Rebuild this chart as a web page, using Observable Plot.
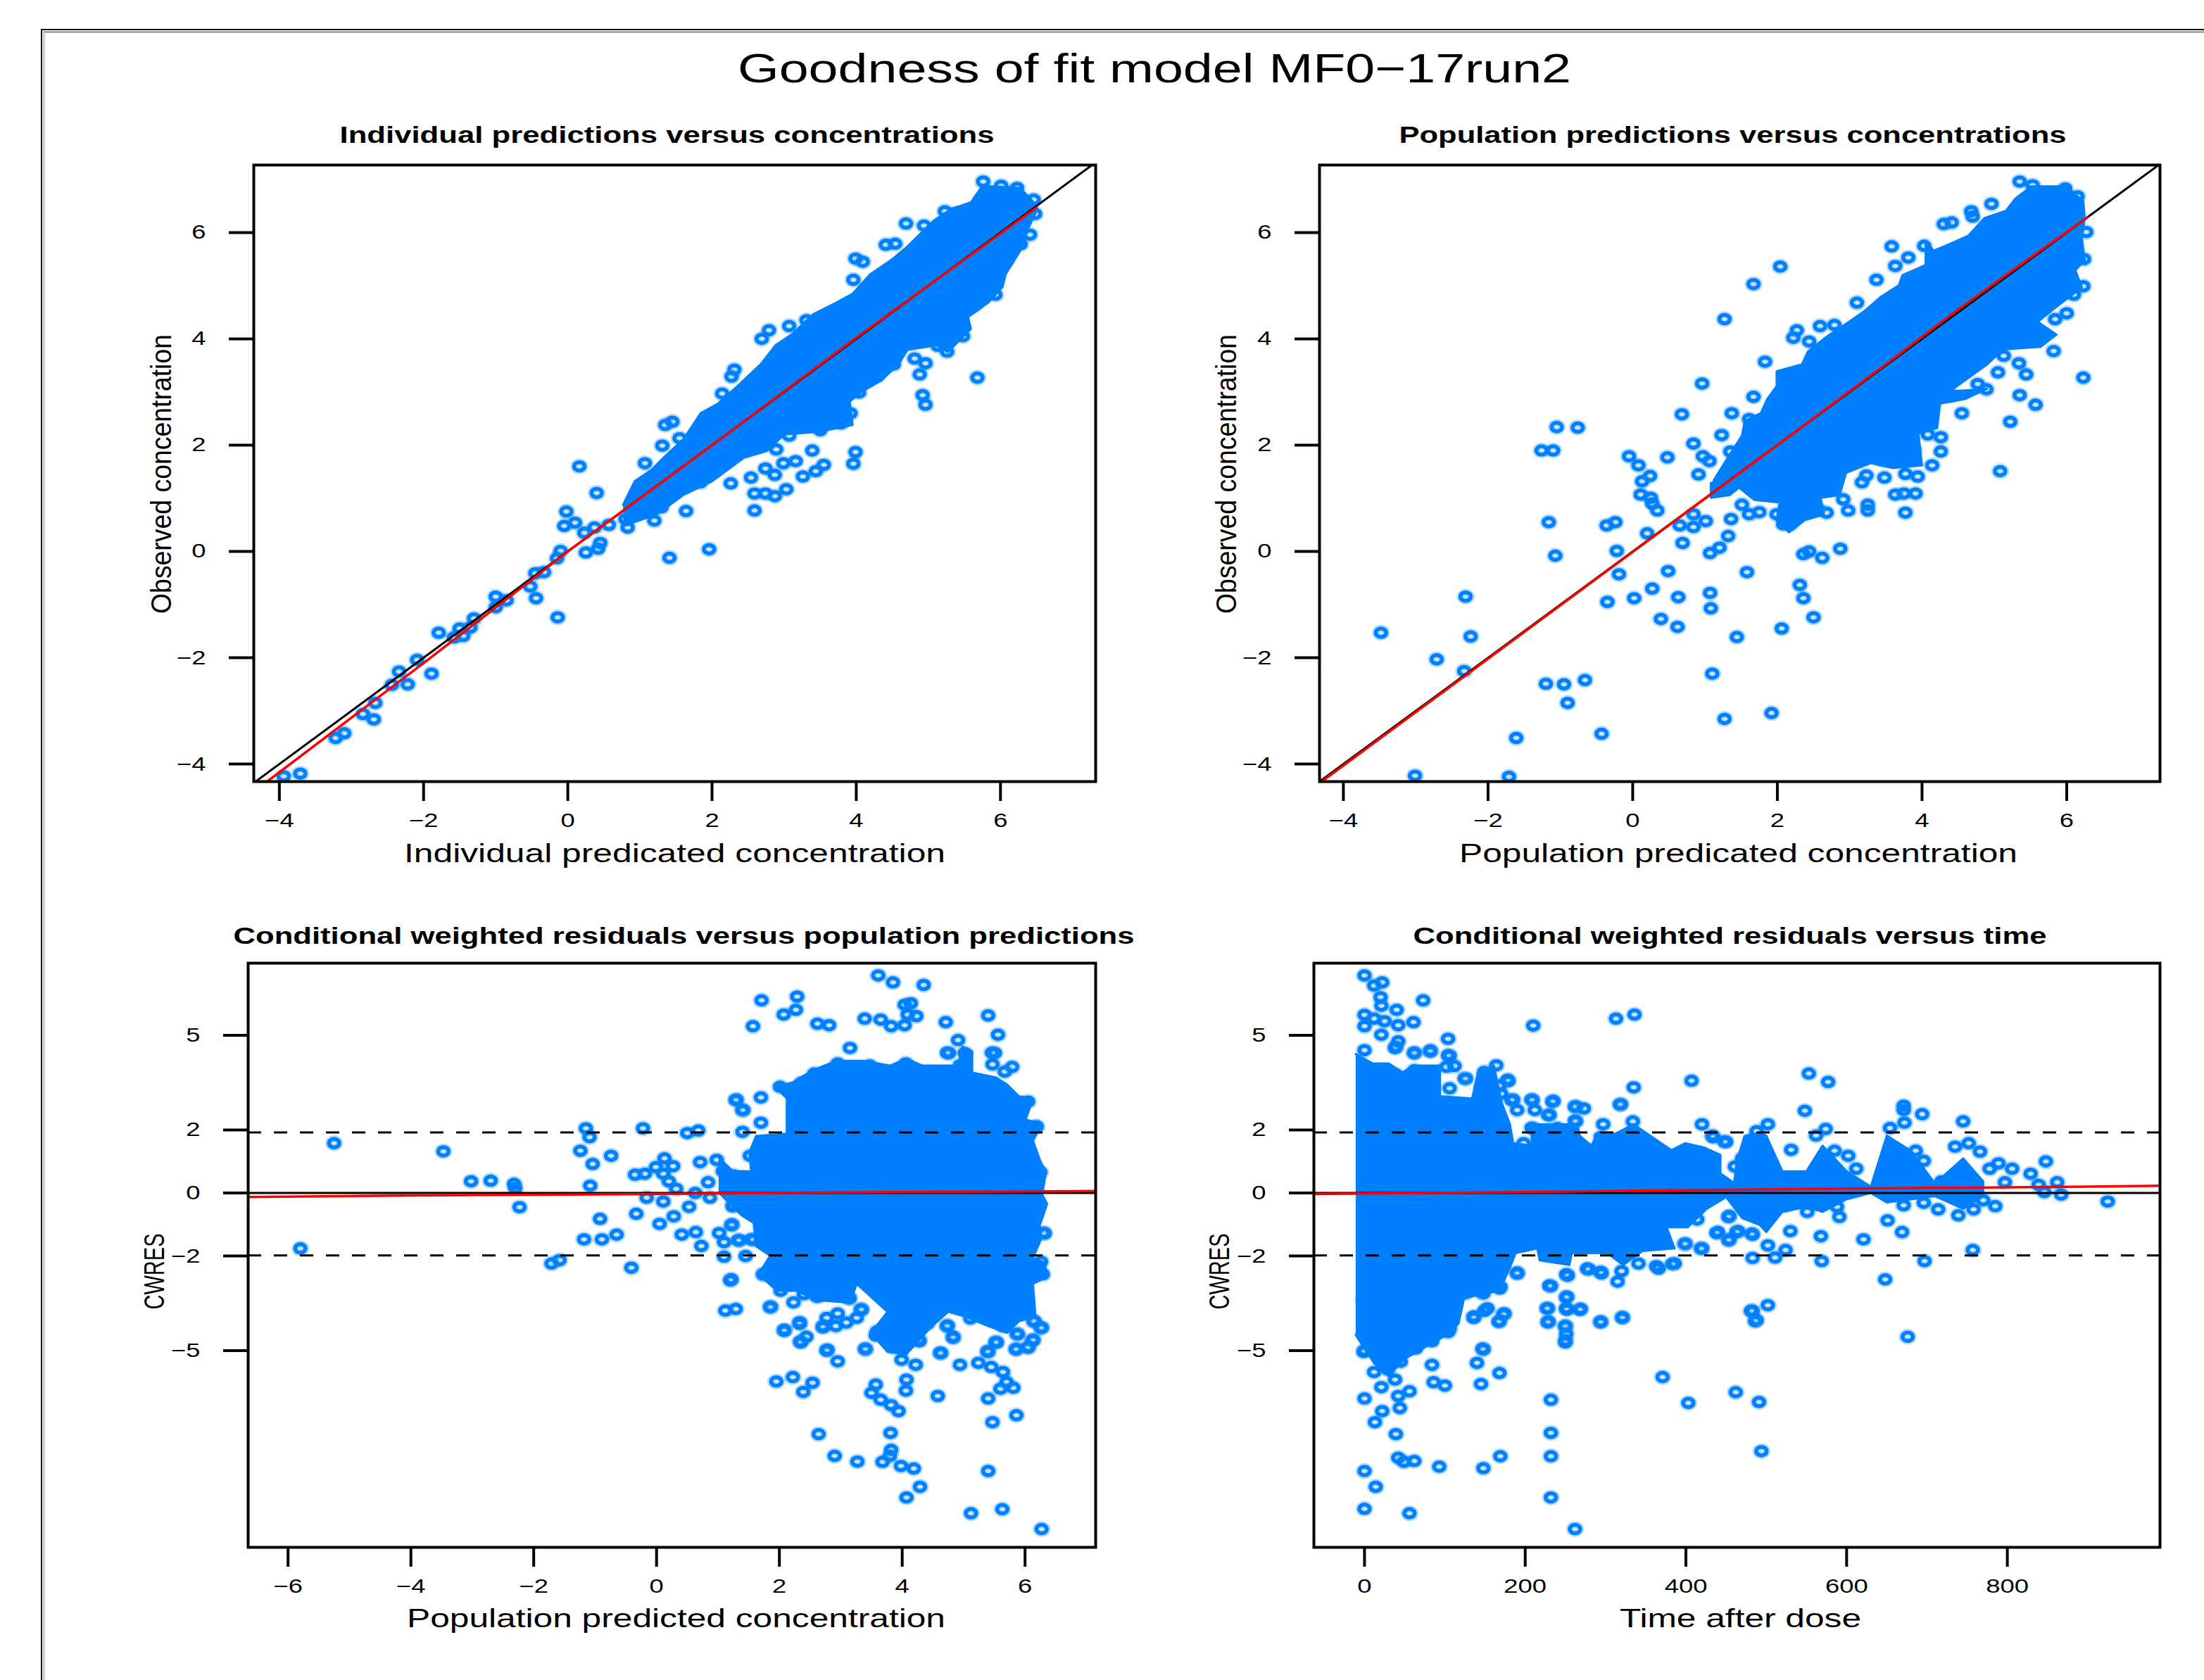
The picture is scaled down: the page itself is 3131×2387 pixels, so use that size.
<!DOCTYPE html>
<html><head><meta charset="utf-8">
<script src="https://cdn.jsdelivr.net/npm/d3@7"></script>
<script src="https://cdn.jsdelivr.net/npm/@observablehq/plot@0.6"></script>
<style>
html,body{margin:0;background:#fff}
#page{position:relative;width:3131px;height:2387px;overflow:hidden;background:#fff;font-family:"Liberation Sans",Arial,sans-serif}
#edge{position:absolute;left:58px;top:41px;right:-10px;bottom:-10px;border-left:2.5px solid #111;border-top:2.5px solid #111}
#edge2{position:absolute;left:60.5px;top:43.5px;right:-10px;bottom:-10px;border-left:3px solid #ccc;border-top:3px solid #aaa}
#page svg{position:absolute;background:transparent;overflow:visible}
#title{position:absolute;left:1640px;top:96px;transform:translate(-50%,-50%) scaleX(1.3);white-space:nowrap;font-size:58px;color:#000}
</style></head>
<body><div id="page"><div id="edge"></div><div id="edge2"></div><div id="title">Goodness of fit model MF0−17run2</div></div>
<script>
const mainTitle = "Goodness of fit model MF0−17run2";
const blue = "#0080ff";

const concTicks = [-4,-2,0,2,4,6];
const cwresTicks = [-5,-2,0,2,5];
const predTicks = [-6,-4,-2,0,2,4,6];
const timeTicks = [0,200,400,600,800];

// dense cores, read as an outline walked round each solid mass: [x, y]
const core1 = [[.766,.88],[.926,1.32],[1.165,1.54],[1.324,1.76],[1.603,2.11],[1.842,2.6],[2.081,2.78],[2.4,3.17],[2.68,3.53],[2.88,3.88],[3.12,4.1],[3.4,4.46],[3.72,4.68],[3.95,4.85],[4.19,5.21],[4.51,5.51],[4.71,5.74],[5.07,6.22],[5.31,6.44],[5.59,6.57],[5.75,6.88],[6.27,6.84],[6.43,6.62],[6.51,6.44],[6.39,6.09],[6.27,5.65],[6.07,5.21],[6.03,4.98],[5.83,4.68],[5.55,4.41],[5.59,4.19],[5.27,3.75],[5.11,3.88],[4.71,3.79],[4.59,3.53],[4.35,3.22],[4.07,3],[3.91,2.82],[3.95,2.38],[3.48,2.25],[3,2.2],[2.76,1.89],[2.44,1.76],[2,1.32],[1.6,1.06],[1.24,.7],[.77,.48]];
const core2 = [[1.12,1.34],[1.29,1.71],[1.51,2.18],[1.55,2.46],[1.77,2.6],[1.86,2.87],[1.99,3.11],[1.99,3.39],[2.34,3.52],[2.42,3.76],[2.68,4.04],[2.99,4.32],[3.21,4.53],[3.42,4.78],[3.68,5.01],[3.73,5.2],[4.05,5.39],[4.05,5.85],[4.16,5.66],[4.34,5.76],[4.64,5.94],[4.86,6.27],[5.16,6.41],[5.29,6.64],[5.51,6.87],[5.99,6.87],[6.23,6.59],[6.25,6.27],[6.21,5.9],[6.25,5.48],[6.12,5.29],[6.21,4.97],[6.03,4.78],[5.81,4.55],[5.6,4.32],[5.86,4.08],[5.64,3.85],[5.12,3.8],[4.9,3.52],[4.38,3.01],[4.9,3.06],[4.6,2.87],[4.25,2.78],[4.21,2.32],[3.95,2.22],[4,1.62],[3.6,1.57],[3.29,1.66],[2.95,1.48],[2.86,1.06],[2.6,1.01],[2.64,.69],[2.38,.59],[2.16,.36],[1.99,.59],[2.03,.92],[1.68,.97],[1.47,1.2],[1.34,1.06],[1.08,1.01],[1.08,1.29]];
const core3 = [[1.01,1.14],[1.24,.69],[1.54,.69],[1.51,1.29],[1.62,1.81],[2.12,1.88],[2.12,3],[1.93,3.37],[2.23,3.52],[2.54,3.89],[2.92,4.19],[3.38,4.19],[3.8,4.04],[4.07,4.26],[4.33,4.04],[4.91,4.04],[4.98,4.64],[5.14,4.49],[5.14,3.82],[5.52,3.67],[5.71,3.44],[5.9,3.07],[6.13,3],[6.01,2.33],[6.28,2.18],[6.13,1.66],[6.24,1.06],[6.34,.65],[6.28,-.05],[6.36,-.35],[6.24,-1.02],[6.26,-1.47],[6.13,-2.06],[6.32,-2.21],[6.36,-2.66],[6.13,-2.88],[6.17,-3.92],[5.9,-4.07],[5.71,-4.44],[5.4,-4.22],[5.02,-3.92],[4.75,-3.77],[4.45,-4.29],[4.07,-5.11],[3.76,-5.04],[3.49,-4.44],[3.76,-3.77],[3.26,-2.88],[3.15,-3.48],[2.61,-3.4],[2.27,-3.1],[1.96,-3.1],[1.66,-2.58],[1.85,-1.99],[1.62,-1.69],[1.58,-.95],[1.39,-.72],[1.16,-.28],[1.01,.02]];
const core4 = [[-11,4.41],[10.3,4.11],[30.4,4.11],[47,3.82],[60.6,4.04],[94,4.04],[94,3.07],[134,3],[141,3.82],[161,4.04],[171,2.85],[181,2.18],[185,1.58],[208,1.51],[208,2.18],[265,2.18],[268,1.81],[282,1.51],[289,1.81],[312,1.88],[335,2.18],[356,1.81],[382,1.36],[399,1.58],[423,1.44],[443,1.21],[443,.62],[460,.32],[463,.99],[473,1.81],[492,1.88],[500,1.82],[520,.69],[550,.69],[570,1.5],[600,.69],[630,.2],[650,1.82],[680,1.34],[710,.3],[745,1.1],[770,.37],[770,-.1],[745,-.5],[710,-.1],[680,-.2],[650,-.3],[630,0],[600,-.2],[570,-.6],[550,-.44],[520,-.6],[500,-1.24],[492,-1.02],[470,-.8],[450,-.13],[426,-.5],[402,-1.09],[376,-1.09],[386,-1.76],[346,-1.84],[322,-2.28],[302,-1.91],[258,-1.91],[255,-2.28],[218,-2.14],[215,-1.76],[188,-1.91],[181,-2.36],[168,-3.1],[124,-3.33],[117,-4.14],[101,-4.52],[50,-5.26],[30,-5.8],[12,-5.4],[-11,-4.5]];

// individually visible circles: [x, y]
const points1 = [[.16,1.6],[.4,1.1],[-.02,.75],[-.05,.48],[.1,.54],[.37,.45],[.57,.5],[.83,.45],[.23,.35],[.45,.16],[.42,.05],[.25,-.02],[-.1,.01],[-.15,-.13],[-.33,-.39],[-.45,-.41],[-.52,-.66],[-.44,-.88],[-1,-.85],[-1,-1.05],[-.85,-.92],[-.14,-1.24],[-1.3,-1.26],[-1.35,-1.43],[-1.5,-1.45],[-1.45,-1.59],[-1.79,-1.53],[-1.58,-1.62],[-2.09,-2.04],[-1.89,-2.3],[-2.34,-2.26],[-2.22,-2.5],[-2.44,-2.51],[-2.67,-2.85],[-2.84,-3.06],[-2.69,-3.16],[-3.1,-3.42],[-3.22,-3.51],[-3.71,-4.18],[-3.94,-4.23],[1.41,-.12],[1.96,.04],[1.64,.76],[2.59,.77],[2.26,1.28],[2.54,1.39],[2.59,1.09],[2.74,1.09],[2.87,1.04],[3.03,1.17],[2.87,1.44],[2.74,1.56],[2.99,1.66],[3.16,1.7],[3.39,1.9],[3.26,1.41],[3.44,1.51],[3.55,1.63],[3.96,1.65],[3.99,1.87],[2.89,1.92],[3.07,2.18],[3.5,2.28],[3.79,2.41],[3.92,2.6],[3.79,2.73],[4.92,2.94],[4.96,2.76],[5.68,3.27],[4.88,3.33],[4.81,3.63],[4.96,3.54],[5.26,3.76],[5.13,3.87],[5.48,4.05],[1.35,2.38],[1.45,2.44],[1.31,1.99],[1.07,1.66],[1.55,2.13],[2.14,2.97],[2.27,3.29],[2.31,3.42],[2.69,4],[2.79,4.16],[3.07,4.24],[3.31,4.35],[3.96,5.11],[3.99,5.51],[4.09,5.45],[4.41,5.77],[4.54,5.79],[4.69,6.17],[4.94,6.13],[5.23,6.4],[5.38,6.36],[5.76,6.96],[6.01,6.88],[6.23,6.84],[6.46,6.62],[6.48,6.35],[6.41,5.96],[6.28,5.78],[6.08,5.48],[5.93,4.83],[5.63,4.63],[4.52,3.52],[4.29,3.31],[4.04,2.99],[1.84,1.3],[1.2,.58],[1.3,.83],[.8,.61]];

const points2 = [[-3.48,-1.53],[-2.71,-2.03],[-2.31,-.85],[-2.24,-1.6],[-2.33,-2.25],[-3.01,-4.22],[-1.71,-4.24],[-1.61,-3.51],[-1.2,-2.49],[-.95,-2.5],[-.66,-2.42],[-.9,-2.85],[-.43,-3.43],[1.27,-3.15],[1.92,-3.04],[1.1,-2.3],[1.44,-1.61],[2.06,-1.45],[2.5,-1.24],[2.36,-.88],[2.31,-.63],[1.08,-1.07],[1.07,-.78],[.62,-1.42],[.39,-1.27],[.63,-.86],[.27,-.7],[.02,-.88],[-.35,-.95],[-.19,-.43],[.49,-.37],[1.58,-.39],[-.22,.01],[-1.07,-.08],[-1.16,.55],[-.36,.49],[-.24,.55],[.2,.34],[.69,.16],[.65,.49],[.84,.46],[1.01,.57],[.84,.7],[1.07,-.03],[1.2,.07],[1.32,.29],[1.36,.61],[2.36,-.05],[2.44,0],[2.62,-.12],[2.87,.05],[-1.26,1.9],[-1.1,1.9],[-1.05,2.34],[-.76,2.33],[-.05,1.79],[.08,1.62],[.24,1.42],[.13,1.32],[.11,1.07],[.25,1.01],[.27,.9],[.34,.77],[.48,1.77],[.68,2.58],[.96,3.16],[.84,2.03],[.97,1.79],[.91,1.45],[1.06,1.7],[1.23,2.19],[1.37,2.6],[1.27,4.37],[1.67,5.03],[2.04,5.36],[1.67,2.91],[1.83,3.57],[1.35,1.88],[1.61,2.49],[2.27,4.16],[2.22,4.02],[2.44,3.95],[2.59,4.24],[2.79,4.26],[3.1,4.68],[3.37,5.11],[3.58,5.74],[3.63,5.37],[3.81,5.53],[4.03,5.75],[4.3,6.16],[4.41,6.19],[4.68,6.4],[4.7,6.3],[4.96,6.54],[5.35,6.96],[5.53,6.89],[5.98,6.83],[6.15,6.68],[6.27,6.01],[6.24,5.5],[6.23,4.99],[6.1,4.83],[6,4.48],[5.84,4.37],[5.82,3.77],[6.23,3.27],[5.57,2.76],[5.35,2.94],[5.22,2.44],[5.08,1.51],[4.55,2.6],[5.44,3.33],[5.34,3.54],[5.13,3.68],[5.05,3.37],[4.89,3.05],[4.77,3.15],[4.41,2.94],[4.26,2.15],[4.26,1.88],[4.14,1.62],[3.89,1.9],[3.94,1.41],[3.77,1.46],[3.91,1.09],[3.75,1.09],[3.63,1.07],[3.77,.73],[3.48,1.39],[3.17,1.3],[3.23,1.43],[3.25,.88],[3.25,.77],[2.98,.77],[2.91,.98],[2.68,.73],[2.56,.8],[2.41,.77],[2.18,.51],[2.08,.51],[1.99,.7],[1.75,.74],[1.61,.7],[1.51,.88],[3.46,1.72],[3.65,1.94],[4.08,2.2]];

const points3 = [[-5.8,-1.76],[-5.25,1.58],[-3.47,1.32],[-3.02,.37],[-2.7,.39],[-2.32,.29],[-2.3,.15],[-2.23,-.45],[-1.15,2.05],[-1.09,1.77],[-1.24,1.34],[-1.04,.92],[-.74,1.18],[-1.08,.23],[-.92,-.82],[-1.18,-1.47],[-.89,-1.47],[-.65,-1.32],[-1.71,-2.24],[-1.58,-2.13],[-.41,-2.37],[-.22,2.05],[-.33,-.66],[.05,-.98],[.41,-1.32],[.64,-1.24],[.73,-1.68],[.28,-.74],[.11,-.27],[-.16,-.15],[.53,-.44],[.87,-.15],[.5,1.9],[.68,1.98],[.71,.98],[.98,1.05],[.13,1.1],[-.01,.82],[.27,.85],[-.35,.58],[-.19,.61],[.11,.61],[.2,.37],[.32,.13],[.63,0],[.84,.34],[1.08,.69],[1.25,.56],[1.4,.5],[1.23,-1],[1.02,-1.27],[1.1,-1.56],[1.35,-1.5],[1.1,-2.02],[1.45,-2],[1.58,-1.48],[1.22,-2.74],[1.12,-3.73],[1.29,-3.68],[1.25,-.4],[1.29,2.95],[1.4,2.63],[1.7,3.03],[1.7,2.23],[1.4,1.94],[1.57,5.29],[1.71,6.11],[2.07,5.66],[2.27,5.81],[2.29,6.23],[2.62,5.37],[2.81,5.32],[3.39,5.53],[3.65,5.5],[3.82,5.29],[4.04,5.32],[3.61,6.9],[3.85,6.68],[4.35,6.6],[4.04,5.97],[4.14,6.02],[4.09,5.66],[4.23,5.61],[4.71,5.42],[5.4,5.63],[5.56,5.02],[4.91,4.85],[3.15,4.6],[4.76,4.44],[5.02,4.44],[5.51,4.44],[4.94,4.05],[5.47,4.08],[5.79,4],[2.95,4.11],[3.47,4.05],[4.06,4.11],[2.57,3.79],[2.36,3.5],[2.01,3.37],[6.05,2.9],[6.19,2.11],[6.25,.66],[6.3,-1.27],[6.26,-2.18],[6.29,-2.58],[6.14,-4.06],[6.27,-4.27],[6.13,-4.66],[5.87,-4.47],[6.05,-4.9],[5.85,-4.95],[5.52,-4.73],[5.39,-5.02],[5.24,-5.39],[4.94,-5.45],[4.63,-5.08],[4.83,-4.56],[4.74,-4.21],[5.45,-5.52],[5.64,-5.68],[5.7,-6],[5.81,-6.18],[5.6,-6.21],[5.4,-6.52],[4.58,-6.44],[5.47,-7.27],[5.86,-7.05],[5.4,-8.82],[5.63,-10.03],[5.12,-10.16],[6.27,-10.66],[4.29,-9.32],[4.07,-9.66],[4.19,-8.74],[3.98,-8.66],[3.68,-8.53],[3.8,-8.34],[3.82,-8.15],[3.27,-8.52],[2.9,-8.34],[2.64,-7.65],[3.81,-7.61],[3.94,-6.92],[3.82,-6.73],[3.65,-6.56],[3.5,-6.34],[3.57,-6.08],[4.06,-6.27],[4.07,-5.92],[2.54,-6.02],[2.39,-6.31],[2.22,-5.84],[1.95,-5.98],[2.95,-5.34],[2.78,-4.97],[3.4,-4.94],[3.99,-5.29],[4.22,-5.45],[3.88,-4.84],[4.27,-4.66],[2.34,-4.71],[2.44,-4.56],[2.08,-4.34],[2.33,-4.1],[1.86,-3.61],[1.74,-2.58],[2.71,-4.23],[2.95,-3.82],[3.33,-3.69],[3.59,-4.39],[4.41,-4.15],[5.11,-3.98],[5.64,-4.23],[2.23,-3.47],[2.65,-3.26],[3.14,-3.34],[4.18,-3.58],[4.53,-3.37],[2.89,3.31],[3.43,3.24],
[2.08,-4.37],[2.33,-4.15],[2.35,-4.74],[2.77,-5],[3.4,-4.96],[2.71,-4.26],[2.77,-3.96],[2.92,-4.22],[3.09,-4.11],[3.34,-3.7],[3.26,-3.96],[3.57,-4.52],[3.86,-4.89],[4.28,-4.7],[4.73,-4.22],[4.83,-4.59],[4.62,-5.07],[5.4,-5.04],[5.54,-4.74],[5.86,-4.96],[6.05,-4.89],[6.13,-4.67],[5.88,-4.48],[6.26,-4.28],[6.15,-4.07],[1.85,-3.62],[1.2,-2.77],[2.4,-3.21],[2.61,-3.29],[2.02,-3.1],[1.74,-2.58],[3.13,-3.33],[1.3,2.96],[1.41,2.63],[1.52,1.18],[1.22,-1.02],[1.33,-1.5],[1.54,-1.47],[1.24,-.42],[4.73,4.45],[5.46,4.45],[5.67,3.85],[6.17,2.1],[6.32,-1.28]];

const points4 = [[0,6.9],[22,6.68],[12,6.58],[20,6.21],[21,5.94],[73,6.11],[40,5.81],[0,5.65],[0,5.29],[12,5.53],[25,5.45],[21,5.02],[42,5.32],[61,5.42],[42,4.81],[38,4.6],[62,4.44],[82,4.52],[104,4.89],[106,4.35],[0,4.53],[102,4],[112,4.03],[62,3.89],[39,3.76],[164,4.05],[149,3.84],[179,3.55],[125,3.63],[106,3.32],[146,3.35],[170,3.15],[183,2.95],[209,2.95],[234,2.9],[262,2.74],[273,2.68],[318,2.81],[335,3.35],[407,3.56],[313,5.53],[336,5.66],[210,5.31],[229,2.47],[263,2.27],[211,2.03],[240,2.06],[297,2.18],[334,2.27],[420,2.18],[433,1.82],[448,1.63],[502,2.18],[482,1.69],[548,2.61],[553,3.79],[577,3.52],[574,2.03],[562,1.82],[531,1.37],[585,1.34],[602,1.18],[612,.77],[671,2.77],[671,2.63],[694,2.5],[672,2.23],[654,2.06],[686,1.34],[696,1.02],[745,2.27],[752,1.58],[735,1.47],[766,1.31],[789,.94],[806,.77],[848,1],[829,.61],[778,.77],[797,.34],[718,.37],[839,.26],[862,.34],[846,.03],[867,-.05],[925,-.27],[785,-.42],[770,-.23],[739,-.71],[714,-.52],[758,-.52],[696,-.31],[671,-.39],[651,-.87],[669,-1.24],[621,-1.47],[757,-1.81],[697,-2.16],[648,-2.74],[676,-4.56],[568,-1.37],[569,-2.16],[591,-.76],[588,-.44],[551,-.6],[525,-.39],[530,-1.21],[524,-1.81],[511,-2.05],[502,-1.66],[483,-2.06],[482,-1.29],[465,-1.21],[454,-1.48],[438,-1.27],[454,-.73],[420,-1.76],[399,-1.61],[414,-.84],[386,-2.24],[363,-2.32],[341,-2.24],[315,-2.81],[320,-2.48],[294,-2.5],[279,-2.42],[251,-2.58],[230,-2.94],[190,-2.53],[169,-2.97],[146,-3.15],[126,-3.18],[481,-3.74],[502,-3.56],[488,-4.03],[321,-3.94],[294,-4.08],[269,-3.68],[251,-3.31],[228,-3.66],[251,-3.66],[229,-4.08],[250,-4.23],[251,-4.47],[250,-4.68],[174,-3.82],[167,-4.08],[153,-3.66],[136,-3.92],[147,-4.94],[140,-5.39],[168,-5.71],[145,-6.06],[84,-5.45],[86,-6],[100,-6.11],[371,-5.84],[403,-6.66],[462,-6.32],[491,-6.63],[494,-8.19],[232,-6.56],[232,-7.61],[232,-8.35],[232,-9.66],[262,-10.66],[169,-8.35],[148,-8.73],[93,-8.68],[62,-8.5],[49,-8.53],[42,-8.4],[39,-7.65],[44,-6.82],[42,-6.44],[56,-6.29],[0,-6.52],[22,-6.92],[13,-7.27],[0,-8.82],[14,-9.32],[0,-10.02],[56,-10.16],[0,-5],[12,-5.68],[21,-6.16],[45,-5.35],[62,-4.9],[83,-4.66],[106,-4.31],[29,-5.6],[38,-5.92],
[39,4.63],[62,4.45],[82,4.49],[104,4.37],[126,3.63],[178,3.59],[168,3.41],[185,2.96],[208,2.96],[235,2.92],[263,2.74],[319,2.81],[190,2.63],[212,2.63],[230,2.48],[262,2.29],[208,2.07],[294,1.77],[198,1.58],[434,1.77],[450,1.62],[461,.84],[470,1.1],[488,1.96],[483,-1.32],[453,-1.5],[440,-1.24],[463,-1.24],[419,-1.76],[399,-1.61],[453,-.76],[383,-2.25],[366,-2.4],[295,-2.55],[277,-2.4],[253,-2.62],[232,-2.95],[190,-2.55],[168,-3.03],[148,-3.18],[252,-3.29],[268,-3.7],[252,-3.7],[227,-3.66],[228,-4.1],[250,-4.22],[250,-4.74],[294,-4.1],[321,-3.96],[483,-3.74],[486,-4.07],[173,-3.85],[168,-4.07],[136,-3.96],[149,-3.74],[148,-4.96],[64,-4.93],[84,-4.7],[104,-4.41],[107,-4.11],[-1,-5.04],[-1,-3.4],[64,-4.52]];

// red smooth lines
const smooth1 = [[-4.17,-4.33],[-2,-2.1],[-.5,-.53],[0,0],[1,1],[2,2],[4,4.02],[6.5,6.47]];
const smooth2 = [[-4.3,-4.33],[2,2],[3.5,3.52],[4.4,4.45],[5.2,5.24],[6.28,6.28]];
const smooth3 = [[-6.65,-.126],[-4,-.08],[0,-.03],[3,.02],[7.15,.06]];
const smooth4 = [[-63,-.03],[200,.03],[400,.09],[700,.16],[900,.2],[990,.23]];
const dashLevels = [1.92,-1.98];

const ringSymbol = {draw(c, size){
  const k = Math.sqrt(size/Math.PI), rx = 7.4*k, ry = 6*k, b = .5523;
  c.moveTo(rx,0);
  c.bezierCurveTo(rx,b*ry,b*rx,ry,0,ry);
  c.bezierCurveTo(-b*rx,ry,-rx,b*ry,-rx,0);
  c.bezierCurveTo(-rx,-b*ry,-b*rx,-ry,0,-ry);
  c.bezierCurveTo(b*rx,-ry,rx,-b*ry,rx,0);
  c.closePath();
}};

const fmt = d => String(d).replace("-", "−");
const M = {l:210, r:20, t:80, b:130};

function panel(o){
  const f = o.frame, fx = (f[0]+f[1])/2;
  const reference = o.diagonal
    ? [Plot.line([[o.xDomain[0],o.xDomain[0]],[o.xDomain[1],o.xDomain[1]]],{stroke:"#000",strokeWidth:3,clip:true})]
    : [Plot.ruleY([0],{stroke:"#000",strokeWidth:3}),Plot.ruleY(dashLevels,{stroke:"#000",strokeWidth:3,strokeDasharray:"19,18"})];
  const svg = Plot.plot({
    width:f[1]-f[0]+M.l+M.r, height:f[3]-f[2]+M.t+M.b,
    marginLeft:M.l, marginRight:M.r, marginTop:M.t, marginBottom:M.b,
    style:{background:"transparent",fontFamily:"Liberation Sans, Arial, sans-serif",overflow:"visible"},
    x:{domain:o.xDomain}, y:{domain:o.yDomain},
    marks:[
      Plot.dot(o.points,{x:d=>d[0],y:d=>d[1],r:1,symbol:ringSymbol,stroke:blue,strokeOpacity:.3,strokeWidth:10.5,fill:"none",clip:true}),
      Plot.line(o.core,{x:d=>d[0],y:d=>d[1],fill:blue,stroke:blue,strokeWidth:3,clip:true}),
      Plot.dot(o.points,{x:d=>d[0],y:d=>d[1],r:1,symbol:ringSymbol,stroke:blue,strokeWidth:5.5,fill:"none",clip:true}),
      ...reference,
      Plot.line(o.smooth,{x:d=>d[0],y:d=>d[1],stroke:"#ff0000",strokeWidth:3.5,clip:true}),
      Plot.frame({stroke:"#000",strokeWidth:4}),
      Plot.axisX({ticks:o.xTicks,tickFormat:fmt,tickSize:28,tickPadding:17,strokeWidth:4,fontSize:28,fill:"#000",label:null}),
      Plot.axisY({ticks:o.yTicks,tickFormat:fmt,tickSize:35,tickPadding:33,strokeWidth:4,fontSize:28,fill:"#000",label:null}),
      Plot.text([o.title],{frameAnchor:"top",dx:o.titleX-fx,dy:o.titleY-f[2],fontSize:33,fontWeight:"bold",fill:"#000",lineAnchor:"middle"}),
      Plot.text([o.xLabel],{frameAnchor:"bottom",dx:o.xLabelX-fx,dy:o.xLabelY-f[3],fontSize:37,fill:"#000",lineAnchor:"middle"}),
      Plot.text([o.yLabel],{frameAnchor:"left",textAnchor:"middle",rotate:-90,dx:o.yLabelX-f[0],dy:o.yLabelY-(f[2]+f[3])/2,fontSize:40,fill:"#000",lineAnchor:"middle"})
    ]
  });
  svg.style.left = (f[0]-M.l)+"px";
  svg.style.top = (f[2]-M.t)+"px";
  document.getElementById("page").appendChild(svg);
  const widths = {[o.title]:o.titleW,[o.xLabel]:o.xLabelW,[o.yLabel]:o.yLabelW};
  svg.querySelectorAll("text").forEach(t=>{
    const s = t.textContent, n = t.getComputedTextLength();
    const w = widths[s] || n*1.3;
    t.setAttribute("textLength",w);
    t.setAttribute("lengthAdjust","spacingAndGlyphs");
  });
}

panel({frame:[360,1556,234,1110],xDomain:[-4.355,7.32],yDomain:[-4.33,7.27],xTicks:concTicks,yTicks:concTicks,core:core1,points:points1,smooth:smooth1,diagonal:true,
  title:"Individual predictions versus concentrations",titleX:947,titleY:192,titleW:930,
  xLabel:"Individual predicated concentration",xLabelX:958,xLabelY:1213,xLabelW:769,
  yLabel:"Observed concentration",yLabelX:230,yLabelY:673,yLabelW:397});
panel({frame:[1874,3068,234,1110],xDomain:[-4.33,7.29],yDomain:[-4.33,7.27],xTicks:concTicks,yTicks:concTicks,core:core2,points:points2,smooth:smooth2,diagonal:true,
  title:"Population predictions versus concentrations",titleX:2461,titleY:192,titleW:948,
  xLabel:"Population predicated concentration",xLabelX:2469,xLabelY:1213,xLabelW:793,
  yLabel:"Observed concentration",yLabelX:1743,yLabelY:673,yLabelW:397});
panel({frame:[352,1556,1368,2198],xDomain:[-6.65,7.15],yDomain:[-11.24,7.29],xTicks:predTicks,yTicks:cwresTicks,core:core3,points:points3,smooth:smooth3,
  title:"Conditional weighted residuals versus population predictions",titleX:971,titleY:1330,titleW:1280,
  xLabel:"Population predicted concentration",xLabelX:960,xLabelY:2300,xLabelW:765,
  yLabel:"CWRES",yLabelX:220,yLabelY:1806,yLabelW:108});
panel({frame:[1866,3068,1368,2198],xDomain:[-63,990],yDomain:[-11.24,7.29],xTicks:timeTicks,yTicks:cwresTicks,core:core4,points:points4,smooth:smooth4,
  title:"Conditional weighted residuals versus time",titleX:2457,titleY:1330,titleW:900,
  xLabel:"Time after dose",xLabelX:2472,xLabelY:2300,xLabelW:343,
  yLabel:"CWRES",yLabelX:1733,yLabelY:1806,yLabelW:108});
</script></body></html>
